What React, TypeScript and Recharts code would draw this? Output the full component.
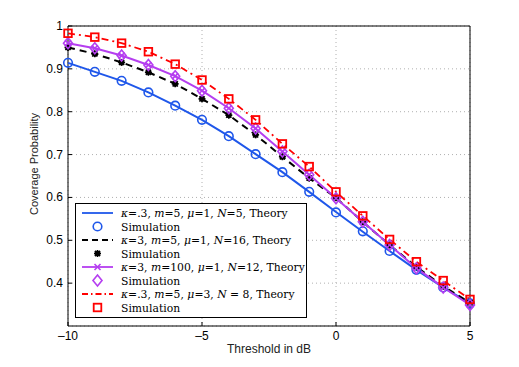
import React from 'react';
import {
  ComposedChart, Line, XAxis, YAxis, CartesianGrid, ReferenceArea,
} from 'recharts';

const thresholds = [-10, -9, -8, -7, -6, -5, -4, -3, -2, -1, 0, 1, 2, 3, 4, 5];

const n5Theory = [0.914, 0.893, 0.872, 0.845, 0.814, 0.781, 0.743, 0.701, 0.659, 0.613, 0.566, 0.520, 0.475, 0.431, 0.390, 0.353];
const n5Sim = [0.914, 0.893, 0.872, 0.845, 0.814, 0.781, 0.743, 0.701, 0.659, 0.613, 0.565, 0.521, 0.475, 0.431, 0.390, 0.353];
const n16Theory = [0.950, 0.935, 0.915, 0.892, 0.865, 0.830, 0.792, 0.746, 0.695, 0.645, 0.599, 0.543, 0.489, 0.438, 0.393, 0.354];
const n16Sim = [0.950, 0.935, 0.915, 0.892, 0.865, 0.830, 0.792, 0.746, 0.695, 0.645, 0.599, 0.543, 0.489, 0.438, 0.393, 0.354];
const m100Theory = [0.960, 0.948, 0.931, 0.909, 0.883, 0.849, 0.808, 0.761, 0.707, 0.653, 0.598, 0.543, 0.489, 0.435, 0.390, 0.349];
const m100Sim = [0.960, 0.948, 0.931, 0.909, 0.883, 0.849, 0.808, 0.761, 0.707, 0.653, 0.598, 0.543, 0.489, 0.435, 0.390, 0.349];
const mu3Theory = [0.983, 0.974, 0.960, 0.940, 0.911, 0.874, 0.830, 0.781, 0.725, 0.672, 0.613, 0.557, 0.502, 0.450, 0.406, 0.362];
const mu3Sim = [0.983, 0.974, 0.960, 0.940, 0.911, 0.874, 0.830, 0.781, 0.725, 0.672, 0.613, 0.557, 0.502, 0.450, 0.406, 0.362];

const xTicks = [-10, -5, 0, 5];
const yTicks = [0.4, 0.5, 0.6, 0.7, 0.8, 0.9, 1];

const BLUE = '#1f57ea';
const PURPLE = '#b53ef0';
const RED = '#ff0000';

const data = thresholds.map((t, i) => ({
  t,
  n5Theory: n5Theory[i], n5Sim: n5Sim[i],
  n16Theory: n16Theory[i], n16Sim: n16Sim[i],
  m100Theory: m100Theory[i], m100Sim: m100Sim[i],
  mu3Theory: mu3Theory[i], mu3Sim: mu3Sim[i],
}));

const PLOT_LEFT = 68;
const PLOT_BOTTOM = 326;
const SANS = "'Liberation Sans', Arial, sans-serif";

// marker shapes
const Circle = ({ cx, cy }: any) => (
  <circle cx={cx} cy={cy} r={4.3} fill="none" stroke={BLUE} strokeWidth={1.6} />
);
const Star = ({ cx, cy }: any) => (
  <g stroke="#000" strokeWidth={1.6}>
    <circle cx={cx} cy={cy} r={2.8} fill="#000" stroke="none" />
    <line x1={cx - 3.5} y1={cy} x2={cx + 3.5} y2={cy} />
    <line x1={cx} y1={cy - 3.5} x2={cx} y2={cy + 3.5} />
    <line x1={cx - 2.6} y1={cy - 2.6} x2={cx + 2.6} y2={cy + 2.6} />
    <line x1={cx - 2.6} y1={cy + 2.6} x2={cx + 2.6} y2={cy - 2.6} />
  </g>
);
const Cross = ({ cx, cy }: any) => (
  <g stroke={PURPLE} strokeWidth={1.6}>
    <line x1={cx - 3} y1={cy - 3} x2={cx + 3} y2={cy + 3} />
    <line x1={cx - 3} y1={cy + 3} x2={cx + 3} y2={cy - 3} />
  </g>
);
const Diamond = ({ cx, cy }: any) => (
  <polygon points={`${cx},${cy - 5.5} ${cx + 4.5},${cy} ${cx},${cy + 5.5} ${cx - 4.5},${cy}`}
    fill="none" stroke={PURPLE} strokeWidth={1.6} />
);
const Square = ({ cx, cy }: any) => (
  <rect x={cx - 3.8} y={cy - 3.8} width={7.6} height={7.6} fill="none" stroke={RED} strokeWidth={1.8} />
);

const YTick = ({ y, payload }: any) => (
  <g>
    <line x1={PLOT_LEFT} y1={y} x2={PLOT_LEFT + 4} y2={y} stroke="#000" />
    <text x={PLOT_LEFT - 5} y={y} dy={4} textAnchor="end" fontSize={12} fill="#000"
      fontFamily={SANS}>{payload.value}</text>
  </g>
);
const XTick = ({ x, payload }: any) => (
  <g>
    <line x1={x} y1={PLOT_BOTTOM} x2={x} y2={PLOT_BOTTOM - 4} stroke="#000" />
    <text x={x} y={PLOT_BOTTOM + 14} textAnchor="middle" fontSize={12} fill="#000"
      fontFamily={SANS}>{String(payload.value).replace('-', '–')}</text>
  </g>
);

const I = ({ children }: any) => <tspan fontStyle="italic">{children}</tspan>;

const legendRows = [
  { kind: 'line', color: BLUE, dash: undefined, mark: null,
    label: <>{<I>κ</I>}=.3, <I>m</I>=5, <I>μ</I>=1, <I>N</I>=5, Theory</> },
  { kind: 'mark', mark: Circle, label: <>Simulation</> },
  { kind: 'line', color: '#000', dash: '6 4', mark: null,
    label: <>{<I>κ</I>}=3, <I>m</I>=5, <I>μ</I>=1, <I>N</I>=16, Theory</> },
  { kind: 'mark', mark: Star, label: <>Simulation</> },
  { kind: 'line', color: PURPLE, dash: undefined, mark: Cross,
    label: <>{<I>κ</I>}=3, <I>m</I>=100, <I>μ</I>=1, <I>N</I>=12, Theory</> },
  { kind: 'mark', mark: Diamond, label: <>Simulation</> },
  { kind: 'line', color: RED, dash: '6 3 1.5 3', mark: null,
    label: <>{<I>κ</I>}=.3, <I>m</I>=5, <I>μ</I>=3, <I>N</I> = 8, Theory</> },
  { kind: 'mark', mark: Square, label: <>Simulation</> },
];

const LegendBox = () => (
  <svg width={232} height={115} style={{ display: 'block' }}>
    <rect x={0.5} y={0.5} width={231} height={114} fill="#fff" stroke="#000" />
    {legendRows.map((r, i) => {
      const cy = 10 + i * 13.5;
      const M = r.mark as any;
      return (
        <g key={i}>
          {r.kind === 'line' && (
            <line x1={7} y1={cy} x2={38} y2={cy} stroke={r.color} strokeWidth={1.8} strokeDasharray={r.dash} />
          )}
          {M && <M cx={22.5} cy={cy} />}
          <text x={46} y={cy} dy={4} fontSize={10.8} fill="#000"
            fontFamily="'DejaVu Serif', 'Liberation Serif', serif">{r.label}</text>
        </g>
      );
    })}
  </svg>
);

export default function App() {
  return (
    <div style={{ position: 'absolute', left: 0, top: 0, width: 519, height: 367, background: '#fff' }}>
      <ComposedChart width={519} height={367} data={data}
        margin={{ top: 26, right: 49, bottom: 0, left: 0 }}>
        <CartesianGrid stroke="#b0b0b0" strokeDasharray="1 3" />
        <XAxis dataKey="t" type="number" domain={[-10, 5]} ticks={xTicks} height={41}
          axisLine={false} tickLine={false} tick={<XTick />}
          label={{ value: 'Threshold in dB', position: 'insideBottom', offset: 14, fontSize: 12, fill: '#222',
            fontFamily: SANS }} />
        <YAxis type="number" domain={[0.3, 1]} ticks={yTicks} width={68} interval={0}
          axisLine={false} tickLine={false} tick={<YTick />}
          label={{ value: 'Coverage Probability', angle: -90, position: 'insideLeft', offset: 34, dy: 39,
            fontSize: 11, fill: '#222', fontFamily: SANS }} />
        <ReferenceArea x1={-10} x2={5} y1={0.3} y2={1} fill="none" stroke="#000" strokeWidth={1} />
        <Line type="linear" dataKey="n5Theory" stroke={BLUE} strokeWidth={2} dot={false} isAnimationActive={false} />
        <Line type="linear" dataKey="n5Sim" stroke="none" dot={<Circle />} isAnimationActive={false} />
        <Line type="linear" dataKey="n16Theory" stroke="#000" strokeWidth={2} strokeDasharray="7 5" dot={false} isAnimationActive={false} />
        <Line type="linear" dataKey="n16Sim" stroke="none" dot={<Star />} isAnimationActive={false} />
        <Line type="linear" dataKey="m100Theory" stroke={PURPLE} strokeWidth={2} dot={<Cross />} isAnimationActive={false} />
        <Line type="linear" dataKey="m100Sim" stroke="none" dot={<Diamond />} isAnimationActive={false} />
        <Line type="linear" dataKey="mu3Theory" stroke={RED} strokeWidth={1.8} strokeDasharray="7 4 2 4" dot={false} isAnimationActive={false} />
        <Line type="linear" dataKey="mu3Sim" stroke="none" dot={<Square />} isAnimationActive={false} />
      </ComposedChart>
      <div style={{ position: 'absolute', left: 75, top: 203 }}>
        <LegendBox />
      </div>
    </div>
  );
}
